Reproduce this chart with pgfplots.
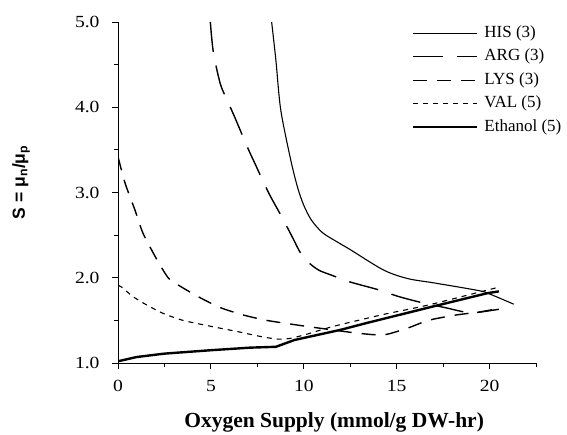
\documentclass[border=0pt]{standalone}
\usepackage{fontspec}
\setmainfont{Liberation Serif}
\newfontfamily\tickfont{Liberation Serif}[FakeStretch=1.15]
\newfontfamily\ylabfont{Liberation Sans}
\usepackage{pgfplots}
\pgfplotsset{compat=1.18}
\begin{document}
\begin{tikzpicture}
\path[use as bounding box] (0,0) rectangle (567pt,434pt);
\begin{axis}[
  at={(118pt,71pt)}, anchor=south west,
  scale only axis, width=418pt, height=341pt,
  xmin=0, xmax=22.5, ymin=1, ymax=5,
  axis x line*=bottom, axis y line*=left,
  axis line style={line width=1pt,-},
  xtick={0,5,10,15,20},
  minor xtick={2.5,7.5,12.5,17.5,22.5},
  ytick={1,2,3,4,5},
  minor ytick={1.5,2.5,3.5,4.5},
  tick align=outside,
  major tick length=6pt, minor tick length=4pt,
  tick style={line width=0.8pt,black},
  /pgf/number format/assume math mode=true,
  tick label style={font=\tickfont\fontsize{17}{20}\selectfont},
  yticklabel style={/pgf/number format/.cd,fixed,fixed zerofill,precision=1, /tikz/xshift=-9pt},
  xticklabel style={yshift=-8pt},
  xlabel={\bfseries Oxygen Supply (mmol/g DW-hr)},
  xlabel style={font=\fontsize{21.5}{24}\selectfont, at={(axis description cs:0.517,-0.188)}, anchor=base},
  ylabel={\ylabfont\bfseries S = μ\textsubscript{n}/μ\textsubscript{p}},
  ylabel style={font=\fontsize{17.5}{20}\selectfont, at={(axis description cs:-0.232,0.53)}, anchor=center},
  legend style={at={(axis description cs:0.703,0.994)}, anchor=north west,
    draw=none, fill=none, inner sep=0pt, row sep=5.5pt, column sep=5pt,
    font=\fontsize{17}{20}\selectfont,
    nodes={inner sep=1pt, text height=12pt, text depth=4pt}},
  legend cell align=left,
  legend image code/.code={\draw[#1] (0pt,0pt) -- (64pt,0pt);},
]
% HIS
\addplot[black, line width=1.1pt, smooth, tension=0.5] coordinates {
(8.27,5.0) (8.5,4.55) (8.76,3.97) (9.3,3.38) (9.68,3.05) (10.0,2.85) (10.4,2.68)
(11.0,2.53) (11.8,2.42) (12.5,2.33) (14.3,2.09) (15.6,1.99) (17.0,1.94) (19.4,1.85) (20.0,1.81) (21.3,1.69)};
\addlegendentry{HIS (3)}
% ARG
\addplot[black, line width=1.4pt, dash pattern=on 30pt off 14pt, smooth, tension=0.5] coordinates {
(4.97,5.0) (5.13,4.65) (5.5,4.28) (5.84,4.10) (6.27,3.89) (6.97,3.53) (7.35,3.35) (8.1,3.0)
(8.8,2.72) (9.4,2.47) (9.8,2.30) (10.2,2.19) (10.8,2.09) (11.5,2.03) (12.5,1.95) (14.0,1.86) (15.1,1.78)
(16.5,1.70) (17.6,1.65) (18.6,1.60) (19.2,1.59) (20.5,1.63)};
\addlegendentry{ARG (3)}
% LYS
\addplot[black, line width=1.4pt, dash pattern=on 14pt off 10pt, smooth, tension=0.4] coordinates {
(0,3.42) (0.38,3.11) (0.92,2.79) (1.35,2.52) (2.1,2.21) (2.7,2.0) (3.2,1.92) (4.3,1.78)
(5.5,1.65) (6.8,1.56) (8.0,1.50) (9.5,1.45) (10.8,1.41) (12.9,1.35) (14.3,1.33) (15.6,1.41)
(16.7,1.50) (18.1,1.56) (19.5,1.60) (20.5,1.64)};
\addlegendentry{LYS (3)}
% VAL
\addplot[black, line width=1.1pt, dash pattern=on 5pt off 5pt, smooth, tension=0.4] coordinates {
(0,1.91) (0.2,1.89) (0.8,1.78) (1.55,1.68) (2.45,1.58) (3.5,1.50) (5.0,1.43) (6.4,1.37)
(7.7,1.31) (8.6,1.28) (9.3,1.29) (10.2,1.34) (11.6,1.43) (14.3,1.57) (16.7,1.68) (20.5,1.89)};
\addlegendentry{VAL (5)}
% Ethanol
\addplot[black, line width=2.4pt] coordinates {
(0,1.02) (1.0,1.07) (2.5,1.11) (5.0,1.15) (7.1,1.18) (8.5,1.19) (9.5,1.27) (12.0,1.39)
(13.4,1.47) (16.9,1.66) (19.9,1.82) (20.5,1.84)};
\addlegendentry{Ethanol (5)}
\end{axis}
\end{tikzpicture}
\end{document}
